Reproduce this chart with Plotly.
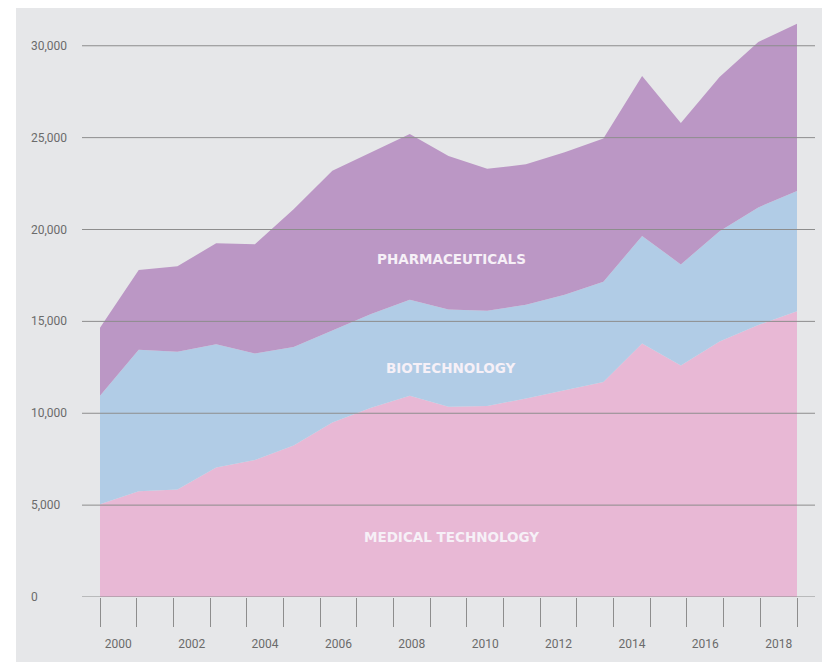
import plotly.graph_objects as go

# ---- data ----
years = list(range(2000, 2019))
medical_technology = [5050, 5750, 5850, 7050, 7450, 8250, 9500, 10300, 10950, 10350,
                      10400, 10800, 11250, 11700, 13800, 12600, 13900, 14800, 15550]
biotechnology = [5900, 7700, 7500, 6700, 5800, 5350, 5000, 5100, 5230, 5300,
                 5180, 5100, 5200, 5450, 5850, 5500, 6000, 6400, 6550]
pharmaceuticals = [3700, 4350, 4650, 5500, 5950, 7500, 8700, 8800, 9020, 8350,
                   7720, 7650, 7750, 7800, 8700, 7700, 8400, 9000, 9100]
series_names = ["MEDICAL TECHNOLOGY", "BIOTECHNOLOGY", "PHARMACEUTICALS"]
y_ticks = [0, 5000, 10000, 15000, 20000, 25000, 30000]
x_label_years = [2000, 2002, 2004, 2006, 2008, 2010, 2012, 2014, 2016, 2018]

colors = ["#e8b8d5", "#b1cce6", "#bb97c5"]

# page body has an 8px default margin; compensate so the plot lands where the reference has it
OFF = 8
W, H = 830 - OFF, 662 - OFF
ml, mt = 82 - OFF, 9 - OFF
plot_right, plot_bottom = 815 - OFF, 597 - OFF
mr, mb = W - plot_right, H - plot_bottom
pw, ph = W - ml - mr, H - mt - mb

first, last = years[0], years[-1]
span = last - first
pad = span * 18 / 697.0
xr = [first - pad, last + pad]

# tick marks: (n+1) equally spaced boundaries across the data span
n = len(years)
tick_bounds = [first + span * k / n for k in range(n + 1)]
label_pos = [(tick_bounds[y - first] + tick_bounds[y - first + 1]) / 2 for y in x_label_years]

fig = go.Figure()
for name, vals, c in zip(series_names, [medical_technology, biotechnology, pharmaceuticals], colors):
    fig.add_trace(go.Scatter(
        x=years, y=vals, name=name, mode="lines", stackgroup="one",
        line=dict(width=0, color=c), fillcolor=c, hoverinfo="skip", showlegend=False))

shapes = []
# background panel
shapes.append(dict(type="rect", xref="paper", yref="paper",
                   x0=(16 - OFF - ml) / pw, x1=(W - ml) / pw,
                   y0=-(mb) / ph, y1=(ph + mt) / ph,
                   fillcolor="#e6e7e9", line=dict(width=0), layer="below"))
for v in y_ticks:
    shapes.append(dict(type="line", xref="paper", yref="y", x0=0, x1=1, y0=v, y1=v,
                       line=dict(color="#8d8d8d", width=1), layer="above"))

annotations = []
for v in y_ticks:
    annotations.append(dict(xref="paper", yref="y", x=(29 - OFF - ml) / pw, y=v,
                            xanchor="left", yanchor="middle", showarrow=False,
                            text=f"{v:,}", font=dict(family="Roboto", size=12, color="#6b6b6b")))

label_x = xr[0] + (451 - OFF - ml) / pw * (xr[1] - xr[0])
label_y = {"PHARMACEUTICALS": 18395, "BIOTECHNOLOGY": 12463, "MEDICAL TECHNOLOGY": 3265}
for name in series_names:
    annotations.append(dict(xref="x", yref="y", x=label_x, y=label_y[name],
                            xanchor="center", yanchor="middle", showarrow=False, text=name,
                            font=dict(family="DejaVu Sans", size=13.5, color="#f6f0f7", weight="bold")))

fig.update_layout(
    width=W, height=H,
    margin=dict(l=ml, r=mr, t=mt, b=mb),
    paper_bgcolor="white", plot_bgcolor="rgba(0,0,0,0)",
    shapes=shapes, annotations=annotations,
    xaxis=dict(range=xr, showgrid=False, zeroline=False, showline=False,
               tickmode="array", tickvals=label_pos, ticktext=[str(y) for y in x_label_years],
               ticks="outside", ticklen=36, tickcolor="rgba(0,0,0,0)",
               tickfont=dict(family="Roboto", size=12, color="#6b6b6b"),
               minor=dict(tickmode="array", tickvals=tick_bounds, ticks="outside",
                          ticklen=29, tickcolor="#8d8d8d", tickwidth=1, showgrid=False)),
    yaxis=dict(range=[0, 32000], showgrid=False, zeroline=False, showline=False,
               showticklabels=False, ticks=""),
)

fig.write_html("out.html")
